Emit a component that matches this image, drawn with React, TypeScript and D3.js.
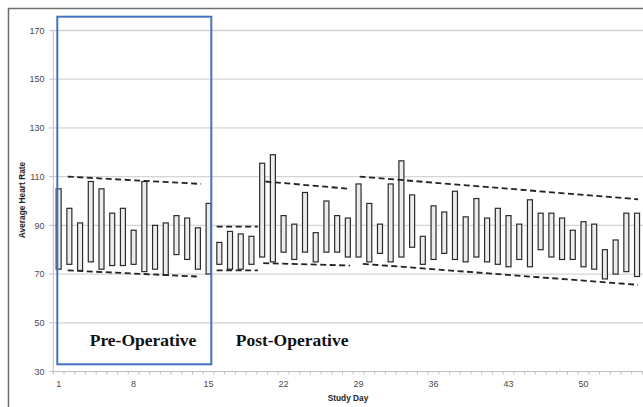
import React, { useEffect, useRef } from 'react';
import * as d3 from 'd3';

// daily max / min average heart rate, days 1..55
const highs = [105, 97, 91, 108, 105, 95, 97, 88, 108, 90, 91, 94, 93, 89, 99, 83, 87.5, 86.5, 85.5, 115.5,
  119, 94, 90.5, 103.5, 87, 100, 94, 93, 107, 99, 90.5, 107, 116.5, 102.5, 85.5, 98, 95.5, 104, 93.5, 101,
  93, 97, 94, 90.5, 100.5, 95, 95, 93, 88, 91.5, 90.5, 80, 84, 95, 95];
const lows = [72, 74, 71.5, 75, 72, 73.5, 73.5, 74, 71, 72, 69.5, 78, 76, 72, 70, 74, 72, 72, 74, 77,
  75, 79, 76, 79, 75, 79, 79, 77, 77, 75, 78.5, 75, 77, 81, 74, 76, 78.5, 76, 75, 77,
  75, 74, 73, 76, 73, 80, 77, 76, 76, 73, 72, 68, 70, 71, 69];
const yTicks = [30, 50, 70, 90, 110, 130, 150, 170];
const xTickDays = [1, 8, 15, 22, 29, 36, 43, 50];
// dashed trend segments: [day0, value0, day1, value1]
const trends: [number, number, number, number][] = [
  [1.85, 110, 14.3, 107],
  [1.85, 71.5, 13.9, 69],
  [15.75, 89.5, 19.6, 89.5],
  [15.75, 71.5, 19.6, 71.5],
  [20.3, 108, 28.2, 105],
  [20.1, 74.5, 28.2, 73.5],
  [29.1, 110, 55.1, 100.7],
  [29.4, 74.2, 55.1, 65.6],
];

const App = () => {
  const svgRef = useRef<SVGSVGElement>(null);

  useEffect(() => {
    const svg = d3.select(svgRef.current);
    svg.selectAll('*').remove();

    const width = 643;
    const height = 407;
    const left = 53.3, top = 30.5, bottom = 371.5, right = 642.4;
    const font = 'Liberation Sans, Arial, sans-serif';

    const days = highs.map((_, i) => i + 1);
    const x = d3.scaleBand<number>().domain(days).range([left, right]);
    const y = d3.scaleLinear().domain([30, 170]).range([bottom, top]);
    const xc = (d: number) => x(d)! + x.bandwidth() / 2;
    const xl = d3.scaleLinear().domain([1, 55]).range([xc(1), xc(55)]);

    svg.append('rect').attr('width', width).attr('height', height).attr('fill', '#fff');

    // outer frame
    svg.append('path')
      .attr('d', `M8.5,${height} V8.5 H${width}`)
      .attr('fill', 'none').attr('stroke', '#6e6e6e').attr('stroke-width', 1.5);

    // gridlines
    svg.append('g').selectAll('line').data(yTicks.filter(t => t > 30)).enter().append('line')
      .attr('x1', left).attr('x2', width)
      .attr('y1', d => y(d)).attr('y2', d => y(d))
      .attr('stroke', '#d4d4d4').attr('stroke-width', 1.3);

    // y axis
    svg.append('line').attr('x1', left).attr('x2', left).attr('y1', top).attr('y2', bottom)
      .attr('stroke', '#bfbfbf');
    const yt = svg.append('g');
    yt.selectAll('line').data(yTicks).enter().append('line')
      .attr('x1', left - 4).attr('x2', left).attr('y1', d => y(d)).attr('y2', d => y(d))
      .attr('stroke', '#bfbfbf');
    yt.selectAll('text').data(yTicks).enter().append('text')
      .attr('x', 44.5).attr('y', d => y(d) + 3.2)
      .attr('text-anchor', 'end').attr('font-family', font).attr('font-size', 9)
      .attr('fill', '#4a4a4a').text(d => d);

    // x axis
    svg.append('line').attr('x1', left).attr('x2', width).attr('y1', bottom).attr('y2', bottom)
      .attr('stroke', '#bfbfbf');
    const bounds = days.map(d => x(d)!).concat([right]);
    svg.append('g').selectAll('line').data(bounds).enter().append('line')
      .attr('x1', d => d).attr('x2', d => d).attr('y1', bottom).attr('y2', bottom + 3)
      .attr('stroke', '#bfbfbf');
    svg.append('g').selectAll('text').data(xTickDays).enter().append('text')
      .attr('x', d => xc(d)).attr('y', 386.5)
      .attr('text-anchor', 'middle').attr('font-family', font).attr('font-size', 9)
      .attr('fill', '#4a4a4a').text(d => d);

    // axis titles
    svg.append('text')
      .attr('transform', 'translate(24.5,200) rotate(-90)')
      .attr('text-anchor', 'middle').attr('font-family', font).attr('font-size', 8.3)
      .attr('font-weight', 'bold').attr('fill', '#222').text('Average Heart Rate');
    svg.append('text')
      .attr('x', 348).attr('y', 400.5)
      .attr('text-anchor', 'middle').attr('font-family', font).attr('font-size', 8.3)
      .attr('font-weight', 'bold').attr('fill', '#222').text('Study Day');

    // floating min-max bars
    const bw = 5;
    svg.append('g').selectAll('rect').data(days).enter().append('rect')
      .attr('x', d => xc(d) - bw / 2)
      .attr('y', d => y(highs[d - 1]))
      .attr('width', bw)
      .attr('height', d => y(lows[d - 1]) - y(highs[d - 1]))
      .attr('fill', '#ececec').attr('stroke', '#2b2b2b').attr('stroke-width', 1.2);

    // trend lines
    svg.append('g').selectAll('line').data(trends).enter().append('line')
      .attr('x1', d => xl(d[0])).attr('y1', d => y(d[1]))
      .attr('x2', d => xl(d[2])).attr('y2', d => y(d[3]))
      .attr('stroke', '#222').attr('stroke-width', 1.8).attr('stroke-dasharray', '6,3.5');

    // pre-operative box
    svg.append('rect')
      .attr('x', 57.3).attr('y', 16.7).attr('width', 154).attr('height', 347.6)
      .attr('fill', 'none').attr('stroke', '#4472c4').attr('stroke-width', 2);

    const serif = 'Liberation Serif, Times New Roman, serif';
    svg.append('text').attr('x', 143).attr('y', 345.5).attr('text-anchor', 'middle')
      .attr('font-family', serif).attr('font-size', 17.5).attr('font-weight', 'bold')
      .attr('fill', '#111').text('Pre-Operative');
    svg.append('text').attr('x', 235.7).attr('y', 345.5)
      .attr('font-family', serif).attr('font-size', 17.5).attr('font-weight', 'bold')
      .attr('fill', '#111').text('Post-Operative');
  }, []);

  return (
    <svg ref={svgRef} width={643} height={407}
      style={{ position: 'absolute', left: 0, top: 0, display: 'block' }} />
  );
};

export default App;
